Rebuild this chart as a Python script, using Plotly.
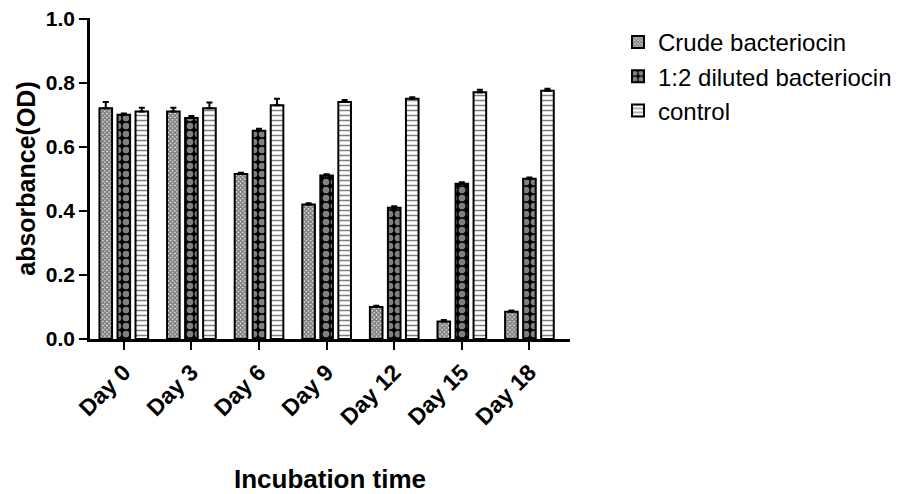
import plotly.graph_objects as go

days = ["Day 0", "Day 3", "Day 6", "Day 9", "Day 12", "Day 15", "Day 18"]
crude = [0.72, 0.71, 0.515, 0.42, 0.10, 0.055, 0.085]
crude_err = [0.02, 0.012, 0.004, 0.004, 0.004, 0.004, 0.004]
diluted = [0.70, 0.69, 0.65, 0.51, 0.41, 0.485, 0.50]
diluted_err = [0.004, 0.006, 0.006, 0.004, 0.004, 0.004, 0.004]
control = [0.71, 0.72, 0.73, 0.74, 0.75, 0.77, 0.775]
control_err = [0.012, 0.018, 0.02, 0.006, 0.005, 0.008, 0.006]

FONT = "Arial, Liberation Sans, sans-serif"

def err(vals):
    return dict(type="data", symmetric=False, array=vals, arrayminus=[0] * len(vals),
                color="black", thickness=2, width=3)

fig = go.Figure()
fig.add_trace(go.Bar(
    name="Crude bacteriocin", x=days, y=crude, error_y=err(crude_err),
    marker=dict(color="white", line=dict(color="black", width=2),
                pattern=dict(shape="x", fgcolor="black", bgcolor="white", size=3, solidity=0.8)),
))
fig.add_trace(go.Bar(
    name="1:2 diluted bacteriocin", x=days, y=diluted, error_y=err(diluted_err),
    marker=dict(color="black", line=dict(color="black", width=2),
                pattern=dict(shape=".", fgcolor="white", bgcolor="black", size=8, solidity=0.55)),
))
fig.add_trace(go.Bar(
    name="control", x=days, y=control, error_y=err(control_err),
    marker=dict(color="white", line=dict(color="black", width=2),
                pattern=dict(shape="-", fgcolor="black", bgcolor="white", size=5, solidity=0.3)),
))

fig.update_layout(
    width=909, height=486,
    margin=dict(l=82, r=347, t=10, b=155, pad=0),
    paper_bgcolor="white", plot_bgcolor="white",
    barmode="group", bargap=0.2, bargroupgap=0.3,
    font=dict(family=FONT, color="black"),
    showlegend=True,
    legend=dict(x=1.1, y=0.994, xanchor="left", yanchor="top",
                font=dict(size=24, family=FONT, color="black"),
                bgcolor="rgba(0,0,0,0)", itemwidth=30, tracegroupgap=2),
    xaxis=dict(
        range=[-0.5, 6.6], showline=True, linecolor="black", linewidth=2.5,
        ticks="outside", ticklen=8, tickwidth=2, tickcolor="black",
        tickangle=-45, tickfont=dict(size=23, family=FONT, weight="bold"),
        title=dict(text="<b>Incubation time</b>", font=dict(size=26, family=FONT), standoff=42),
        showgrid=False, zeroline=False, automargin=False, ticklabeloverflow="allow",
    ),
    yaxis=dict(
        range=[0, 1.002], showline=True, linecolor="black", linewidth=2.5,
        ticks="outside", ticklen=8, tickwidth=2, tickcolor="black",
        tickvals=[0, 0.2, 0.4, 0.6, 0.8, 1.0], ticktext=["0.0", "0.2", "0.4", "0.6", "0.8", "1.0"],
        tickfont=dict(size=21, family=FONT, weight="bold"),
        title=dict(text="<b>absorbance(OD)</b>", font=dict(size=25, family=FONT), standoff=4),
        showgrid=False, zeroline=False, automargin=False, ticklabeloverflow="allow",
    ),
)

fig.write_html("out.html")
